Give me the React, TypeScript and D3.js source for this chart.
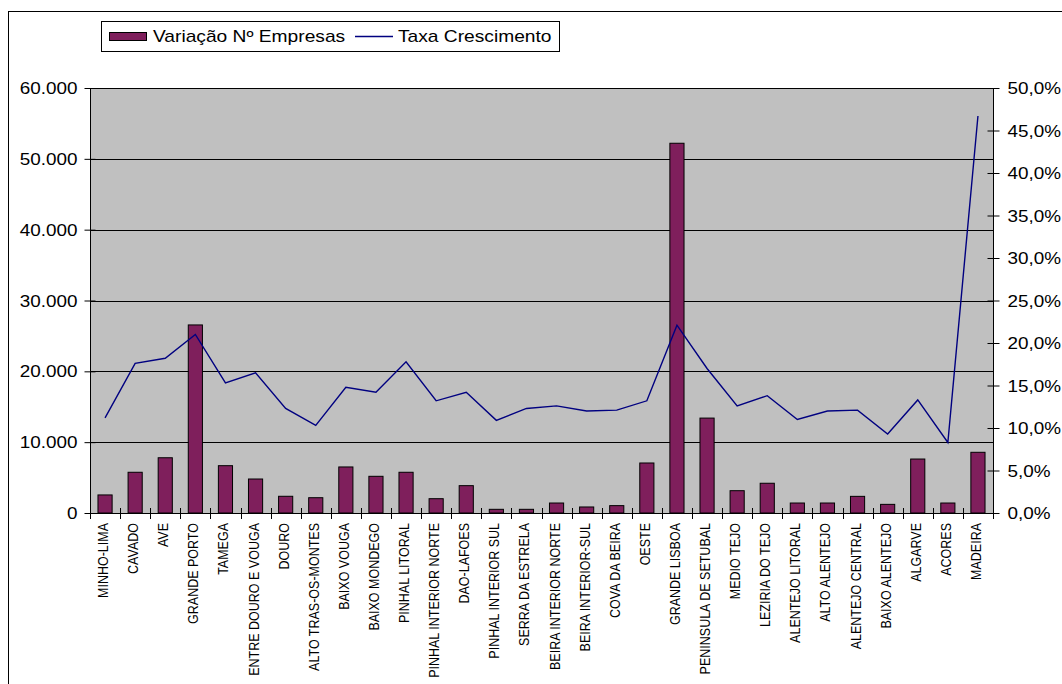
import React, { useEffect, useRef } from 'react'
import * as d3 from 'd3'

const categories = [
  'MINHO-LIMA', 'CAVADO', 'AVE', 'GRANDE PORTO', 'TAMEGA', 'ENTRE DOURO E VOUGA', 'DOURO',
  'ALTO TRAS-OS-MONTES', 'BAIXO VOUGA', 'BAIXO MONDEGO', 'PINHAL LITORAL', 'PINHAL INTERIOR NORTE',
  'DAO-LAFOES', 'PINHAL INTERIOR SUL', 'SERRA DA ESTRELA', 'BEIRA INTERIOR NORTE', 'BEIRA INTERIOR-SUL',
  'COVA DA BEIRA', 'OESTE', 'GRANDE LISBOA', 'PENINSULA DE SETUBAL', 'MEDIO TEJO', 'LEZIRIA DO TEJO',
  'ALENTEJO LITORAL', 'ALTO ALENTEJO', 'ALENTEJO CENTRAL', 'BAIXO ALENTEJO', 'ALGARVE', 'ACORES', 'MADEIRA',
]

// Variação Nº Empresas
const empresas = [
  2550, 5750, 7800, 26550, 6680, 4800, 2360, 2160, 6500, 5180, 5750, 2020, 3860, 520, 520,
  1410, 850, 1040, 7060, 52200, 13400, 3150, 4200, 1410, 1410, 2350, 1220, 7620, 1410, 8570,
]

// Taxa Crescimento (fraction)
const taxa = [
  0.112, 0.176, 0.182, 0.210, 0.153, 0.165, 0.123, 0.103, 0.148, 0.142, 0.178, 0.132, 0.142, 0.109, 0.123,
  0.126, 0.120, 0.121, 0.132, 0.221, 0.170, 0.126, 0.138, 0.110, 0.120, 0.121, 0.093, 0.133, 0.083, 0.467,
]

const leftTicks = [0, 10000, 20000, 30000, 40000, 50000, 60000]
const rightTicks = [0, 0.05, 0.1, 0.15, 0.2, 0.25, 0.3, 0.35, 0.4, 0.45, 0.5]

const W = 1062
const H = 684
const plot = { left: 90, right: 993, top: 88, bottom: 513 }
const barColor = '#7F1F5C'
const lineColor = '#000080'
const font = '"Liberation Sans", Arial, sans-serif'
const sx = 1.18 // text in the picture is stretched sideways

function App() {
  const ref = useRef<SVGSVGElement>(null)

  useEffect(() => {
    const svg = d3.select(ref.current)
    svg.selectAll('*').remove()

    // chart frame
    svg.append('rect')
      .attr('x', 8.5).attr('y', 11.5)
      .attr('width', W + 20).attr('height', H + 20)
      .attr('fill', 'white').attr('stroke', 'black')

    const x = d3.scaleBand<string>().domain(categories).range([plot.left, plot.right]).padding(0)
    const yL = d3.scaleLinear().domain([0, 60000]).range([plot.bottom, plot.top])
    const yR = d3.scaleLinear().domain([0, 0.5]).range([plot.bottom, plot.top])

    svg.append('rect')
      .attr('x', plot.left).attr('y', plot.top)
      .attr('width', plot.right - plot.left).attr('height', plot.bottom - plot.top)
      .attr('fill', '#C0C0C0')

    // gridlines
    svg.append('g').selectAll('line')
      .data(leftTicks)
      .join('line')
      .attr('x1', plot.left).attr('x2', plot.right)
      .attr('y1', d => Math.round(yL(d)) + 0.5).attr('y2', d => Math.round(yL(d)) + 0.5)
      .attr('stroke', 'black')

    // bars
    const bw = x.bandwidth() * 0.47
    svg.append('g').selectAll('rect')
      .data(empresas)
      .join('rect')
      .attr('x', (d, i) => x(categories[i])! + (x.bandwidth() - bw) / 2)
      .attr('y', d => yL(d))
      .attr('width', bw)
      .attr('height', d => yL(0) - yL(d))
      .attr('fill', barColor)
      .attr('stroke', 'black')
      .attr('stroke-width', 1)

    // line
    const line = d3.line<number>()
      .x((d, i) => x(categories[i])! + x.bandwidth() / 2)
      .y(d => yR(d))
    svg.append('path')
      .datum(taxa)
      .attr('d', line)
      .attr('fill', 'none')
      .attr('stroke', lineColor)
      .attr('stroke-width', 1.4)

    // left axis
    const fmtL = (v: number) => d3.format(',')(v).replace(/,/g, '.')
    const gl = svg.append('g').attr('transform', `translate(${plot.left + 0.5},0)`)
      .call(d3.axisLeft(yL).tickValues(leftTicks).tickSize(5)
        .tickFormat(d => fmtL(d as number)))
    gl.select('.domain').attr('stroke', 'black').attr('d', `M0,${plot.top}V${plot.bottom}`)
    gl.selectAll('.tick line').attr('x1', 5).attr('x2', -6)
    gl.selectAll('.tick text')
      .attr('font-family', font).attr('font-size', 16).attr('fill', 'black')
      .attr('transform', `scale(${sx},1)`)
      .attr('x', -13 / sx).attr('dy', '0.35em')

    // right axis
    const fmtR = (v: number) => (v * 100).toFixed(1).replace('.', ',') + '%'
    const gr = svg.append('g').attr('transform', `translate(${plot.right + 0.5},0)`)
      .call(d3.axisRight(yR).tickValues(rightTicks).tickSize(6)
        .tickFormat(d => fmtR(d as number)))
    gr.select('.domain').attr('stroke', 'black').attr('d', `M0,${plot.top}V${plot.bottom}`)
    gr.selectAll('.tick line').attr('x1', -6).attr('x2', 6)
    gr.selectAll('.tick text')
      .attr('font-family', font).attr('font-size', 16).attr('fill', 'black')
      .attr('transform', `scale(${sx},1)`)
      .attr('x', 14 / sx).attr('dy', '0.35em')

    // bottom axis
    const bounds = categories.map(c => x(c)!).concat([plot.right])
    const gb = svg.append('g')
    gb.append('line')
      .attr('x1', plot.left).attr('x2', plot.right + 6)
      .attr('y1', plot.bottom + 0.5).attr('y2', plot.bottom + 0.5)
      .attr('stroke', 'black')
    gb.selectAll('line.tk')
      .data(bounds)
      .join('line')
      .attr('class', 'tk')
      .attr('x1', d => Math.round(d) + 0.5).attr('x2', d => Math.round(d) + 0.5)
      .attr('y1', plot.bottom - 5).attr('y2', plot.bottom + 6)
      .attr('stroke', 'black')
    gb.selectAll('text')
      .data(categories)
      .join('text')
      .attr('transform', d => `translate(${x(d)! + x.bandwidth() / 2 + 3},${plot.bottom + 10}) rotate(-90) scale(1,1.12)`)
      .attr('text-anchor', 'end')
      .attr('font-family', font)
      .attr('font-size', 12.5)
      .attr('fill', 'black')
      .text(d => d)

    // legend
    const lg = svg.append('g')
    lg.append('rect')
      .attr('x', 101.5).attr('y', 21.5).attr('width', 458).attr('height', 30)
      .attr('fill', 'white').attr('stroke', 'black')
    lg.append('rect')
      .attr('x', 109.5).attr('y', 32.5).attr('width', 37).attr('height', 8)
      .attr('fill', barColor).attr('stroke', 'black')
    lg.append('text')
      .attr('transform', `translate(153,42) scale(${sx + 0.02},1)`)
      .attr('font-family', font).attr('font-size', 16).attr('fill', 'black')
      .text('Variação Nº Empresas')
    lg.append('line')
      .attr('x1', 355).attr('x2', 393).attr('y1', 36.5).attr('y2', 36.5)
      .attr('stroke', lineColor).attr('stroke-width', 1.4)
    lg.append('text')
      .attr('transform', `translate(398,42) scale(${sx + 0.02},1)`)
      .attr('font-family', font).attr('font-size', 16).attr('fill', 'black')
      .text('Taxa Crescimento')
  }, [])

  return (
    <svg ref={ref} width={W} height={H}
      style={{ position: 'absolute', left: 0, top: 0, background: 'white' }} />
  )
}

export default App
